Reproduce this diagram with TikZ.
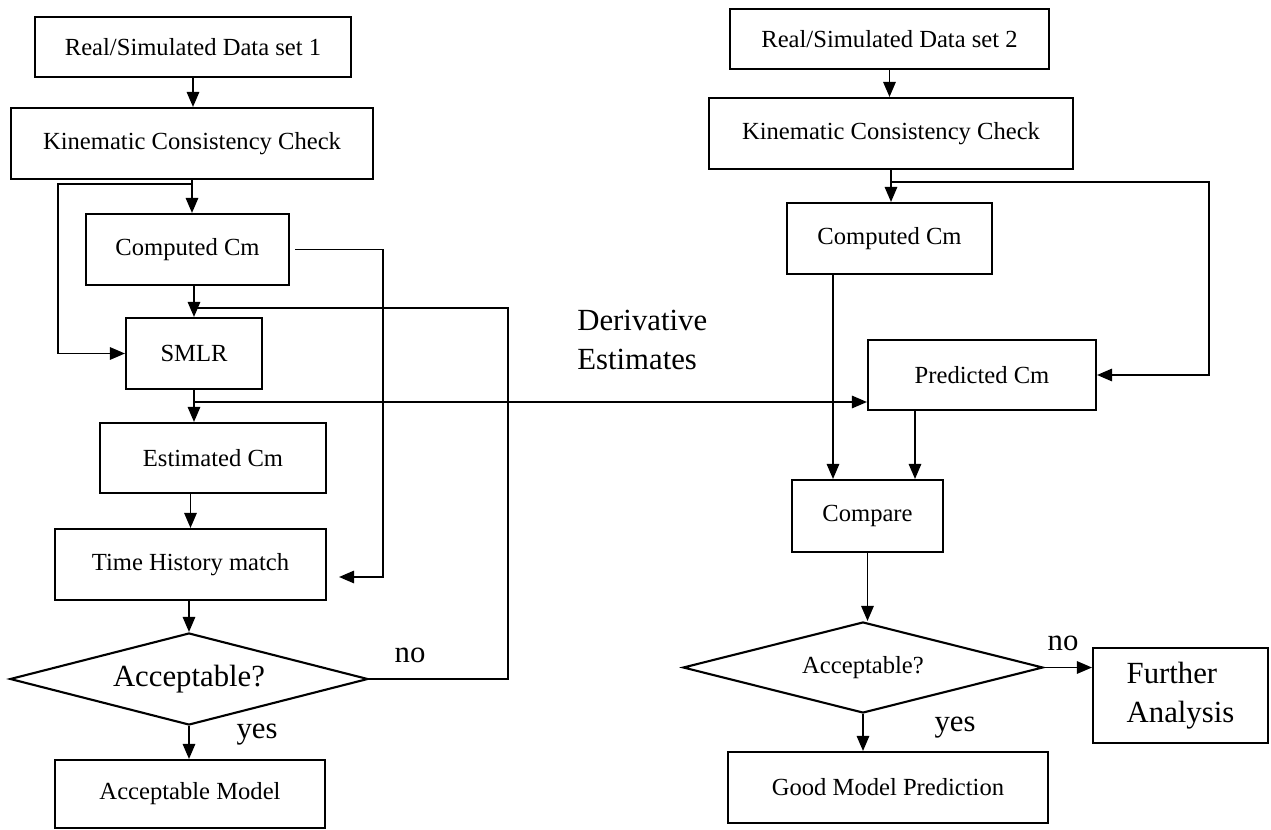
\documentclass[tikz,border=0pt]{standalone}
\usepackage{fontspec}
\setmainfont{Liberation Serif}
\usepackage{tikz}
\usetikzlibrary{shapes.geometric, arrows.meta, positioning, calc}

\newcommand{\boxfont}{\fontsize{14}{16}\selectfont}
\newcommand{\lblfont}{\fontsize{17.5}{22}\selectfont}

\begin{document}
\begin{tikzpicture}[
    box/.style={
        rectangle, draw, line width=1.2pt,
        font=\boxfont, align=center, inner sep=2pt
    },
    decide/.style={diamond, draw, line width=1.2pt, inner sep=0pt, aspect=3.9},
    arr/.style={-{Triangle[length=3mm, width=2.5mm]}, line width=0.8pt},
    line/.style={line width=0.8pt},
    lbl/.style={font=\lblfont, inner sep=0pt},
]
\useasboundingbox (0,0) rectangle (25.42,-16.6);

% Left column: data set 1
\node[box, minimum width=6.32cm, minimum height=1.2cm]  (data1) at (3.86, -0.94)  {Real/Simulated Data set 1};
\node[box, minimum width=7.24cm, minimum height=1.42cm] (kcc1)  at (3.84, -2.87)  {Kinematic Consistency Check};
\node[box, minimum width=4.06cm, minimum height=1.42cm] (comp1) at (3.75, -4.99)  {Computed Cm};
\node[box, minimum width=2.72cm, minimum height=1.42cm] (smlr)  at (3.88, -7.07)  {SMLR};
\node[box, minimum width=4.52cm, minimum height=1.40cm] (est)   at (4.26, -9.16)  {Estimated Cm};
\node[box, minimum width=5.42cm, minimum height=1.42cm] (thm)   at (3.81, -11.29) {Time History match};
\node[decide, minimum width=7.16cm, minimum height=1.84cm, font=\lblfont] (acc1) at (3.78, -13.58) {Acceptable?};
\node[box, minimum width=5.40cm, minimum height=1.36cm] (model) at (3.80, -15.88) {Acceptable Model};

% Right column: data set 2
\node[box, minimum width=6.38cm, minimum height=1.2cm]  (data2) at (17.79, -0.78)  {Real/Simulated Data set 2};
\node[box, minimum width=7.28cm, minimum height=1.42cm] (kcc2)  at (17.82, -2.67)  {Kinematic Consistency Check};
\node[box, minimum width=4.10cm, minimum height=1.42cm] (comp2) at (17.79, -4.77)  {Computed Cm};
\node[box, minimum width=4.56cm, minimum height=1.40cm] (pred)  at (19.64, -7.50)  {Predicted Cm};
\node[box, minimum width=3.02cm, minimum height=1.44cm] (cmp)   at (17.35, -10.32) {Compare};
\node[decide, minimum width=7.20cm, minimum height=1.82cm, font=\boxfont] (acc2) at (17.26, -13.35) {Acceptable?};
\node[box, minimum width=6.40cm, minimum height=1.42cm] (good)  at (17.76, -15.75) {Good Model Prediction};
\node[box, minimum width=3.50cm, minimum height=1.90cm, font=\lblfont, align=left] (further) at (23.61, -13.91) {Further\\Analysis};

% Labels
\node[lbl, anchor=west, align=left] (deriv) at (11.54, -6.8) {Derivative\\Estimates};
\node[lbl] (no1)  at (8.20, -13.10) {no};
\node[lbl] (yes1) at (5.14, -14.70) {yes};
\node[lbl] (no2)  at (21.26, -12.86) {no};
\node[lbl] (yes2) at (19.10, -14.56) {yes};

% Bend points
\coordinate (lbend) at (1.16, -3.68);
\coordinate (cbend) at (7.66, -5.00);
\coordinate (fbk)   at (10.16, -6.16);
\coordinate (dtap)  at (3.88, -8.04);
\coordinate (rbend) at (24.18, -3.64);
\coordinate (c2out) at ([xshift=-1.13cm]comp2.south);
\coordinate (pout)  at ([xshift=-1.34cm]pred.south);

% Arrows left
\draw[arr] (data1.south) -- (data1.south |- kcc1.north);
\draw[arr] (kcc1.south) -- (kcc1.south |- comp1.north);
\draw[arr] (kcc1.south |- lbend) -- (lbend) |- (smlr.west);
\draw[arr] (smlr.north |- comp1.south) -- (smlr.north);
\draw[arr, shorten <=1mm, shorten >=2.4mm] (comp1.east) -- (comp1.east -| cbend) |- ([yshift=-0.25cm]thm.east);
\draw[arr] (smlr.south) -- (smlr.south |- est.north);
\draw[arr] (thm.north |- est.south) -- (thm.north);
\draw[arr] (acc1.north |- thm.south) -- (acc1.north);
\draw[arr] (acc1.south) -- (acc1.south |- model.north);
\draw[line] (acc1.east) -| (fbk) -- (fbk -| smlr.north);
\draw[arr] (dtap) -- (dtap -| pred.west);

% Arrows right
\draw[arr] (data2.south) -- (data2.south |- kcc2.north);
\draw[arr] (kcc2.south) -- (kcc2.south |- comp2.north);
\draw[arr] (kcc2.south |- rbend) -- (rbend) |- (pred.east);
\draw[arr] (c2out) -- (c2out |- cmp.north);
\draw[arr] (pout) -- (pout |- cmp.north);
\draw[arr] (cmp.south) -- (cmp.south |- acc2.north);
\draw[arr] (acc2.south) -- (acc2.south |- good.north);
\draw[arr] (acc2.east) -- (acc2.east -| further.west);

\end{tikzpicture}
\end{document}
